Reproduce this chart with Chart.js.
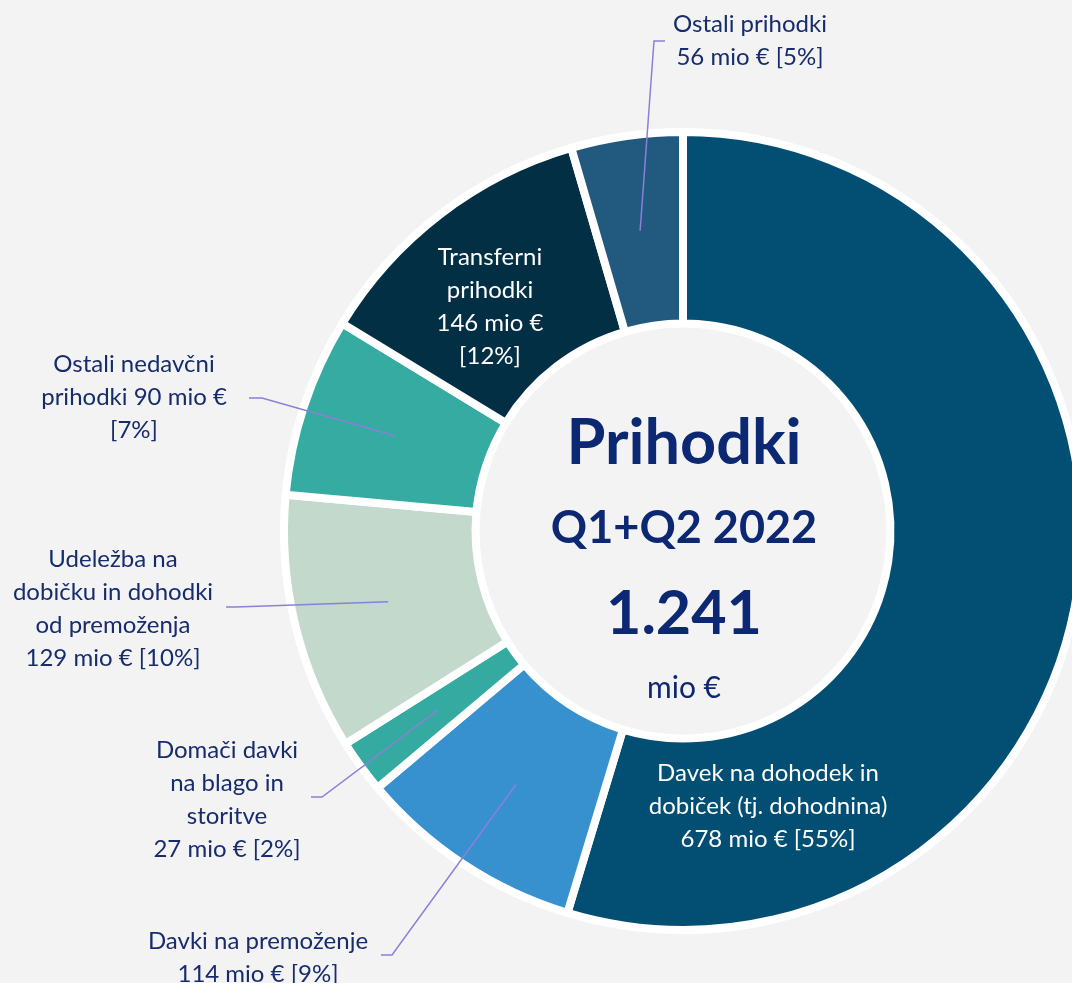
<!DOCTYPE html>
<html>
<head>
<meta charset="utf-8">
<script src="https://cdn.jsdelivr.net/npm/chart.js@4"></script>
<style>
    html, body { margin: 0; padding: 0; background: #f3f3f3; overflow: hidden; }
    #okvir { width: 1072px; height: 983px; overflow: hidden; }
</style>
</head>
<body>
<div id="okvir"><canvas id="grafica" width="1100" height="983"></canvas></div>
<script>
const kategorije = ['Davek na dohodek in dobiček (tj. dohodnina)', 'Davki na premoženje', 'Domači davki na blago in storitve',
    'Udeležba na dobičku in dohodki od premoženja', 'Ostali nedavčni prihodki', 'Transferni prihodki', 'Ostali prihodki'];
const zneski = [678, 114, 27, 129, 90, 146, 56];
const delezi = [55, 9, 2, 10, 7, 12, 5];
const skupaj = '1.241';
const barve = ['#034f74', '#3791cf', '#35aaa0', '#c2d9cc', '#35aba1', '#032f45', '#225a7f'];

// besedilo nalepk po vrsticah ({z} = znesek, {d} = delež)
const vrstice = [
    ['Davek na dohodek in', 'dobiček (tj. dohodnina)', '{z} mio € {d}'],
    ['Davki na premoženje', '{z} mio € {d}'],
    ['Domači davki', 'na blago in', 'storitve', '{z} mio € {d}'],
    ['Udeležba na', 'dobičku in dohodki', 'od premoženja', '{z} mio € {d}'],
    ['Ostali nedavčni', 'prihodki {z} mio €', '{d}'],
    ['Transferni', 'prihodki', '{z} mio €', '{d}'],
    ['Ostali prihodki', '{z} mio € {d}']
];

// postavitev nalepk: x, y prve vrstice, kolen in konec povezovalne črte (null = nalepka v izseku)
const postavitev = [
    { x: 768, y: 773, barva: '#ffffff', crta: null },
    { x: 258, y: 941, barva: '#172c6c', crta: [[392, 955], [381, 955]] },
    { x: 227, y: 750, barva: '#172c6c', crta: [[322, 797], [311, 797]] },
    { x: 113, y: 559, barva: '#172c6c', crta: [[236, 607], [226, 607]] },
    { x: 134, y: 364, barva: '#172c6c', crta: [[262, 398], [249, 398]] },
    { x: 490, y: 257, barva: '#ffffff', crta: null },
    { x: 750, y: 24, barva: '#172c6c', crta: [[654, 41], [665, 41]] }
];

const pisava = 'Lato, "Open Sans", sans-serif';

const nalepke = {
    id: 'nalepke',
    afterDatasetsDraw(chart) {
        const ctx = chart.ctx;
        const loki = chart.getDatasetMeta(0).data;
        ctx.save();

        // povezovalne črte
        ctx.strokeStyle = '#8a80d8';
        ctx.lineWidth = 1.5;
        loki.forEach((lok, i) => {
            const p = postavitev[i];
            if (!p.crta) return;
            const s = lok.tooltipPosition();
            ctx.beginPath();
            ctx.moveTo(s.x, s.y);
            p.crta.forEach(([x, y]) => ctx.lineTo(x, y));
            ctx.stroke();
        });

        // besedila
        ctx.font = '24px ' + pisava;
        ctx.textAlign = 'center';
        ctx.textBaseline = 'middle';
        vrstice.forEach((vr, i) => {
            const p = postavitev[i];
            ctx.fillStyle = p.barva;
            vr.forEach((t, j) => {
                const besedilo = t.replace('{z}', zneski[i]).replace('{d}', '[' + delezi[i] + '%]');
                ctx.fillText(besedilo, p.x, p.y + j * 33);
            });
        });

        // sredina
        const cx = loki[0].x + 1;
        ctx.fillStyle = '#0c2872';
        ctx.textBaseline = 'alphabetic';
        ctx.font = 'bold 63px ' + pisava;
        ctx.fillText('Prihodki', cx, 464);
        ctx.font = 'bold 45px ' + pisava;
        ctx.fillText('Q1+Q2 2022', cx, 543);
        ctx.font = 'bold 61px ' + pisava;
        ctx.fillText(skupaj, cx, 634);
        ctx.font = '30px ' + pisava;
        ctx.fillText('mio €', cx, 698);
        ctx.restore();
    }
};

new Chart(document.getElementById('grafica').getContext('2d'), {
    type: 'doughnut',
    data: {
        labels: kategorije,
        datasets: [{
            data: zneski,
            backgroundColor: barve,
            borderColor: '#ffffff',
            borderWidth: 8
        }]
    },
    options: {
        responsive: false,
        animation: false,
        cutout: '52%',
        layout: { padding: { left: 280, right: 14, top: 128, bottom: 49 } },
        plugins: {
            legend: { display: false },
            tooltip: { enabled: false }
        }
    },
    plugins: [nalepke]
});
</script>
</body>
</html>
